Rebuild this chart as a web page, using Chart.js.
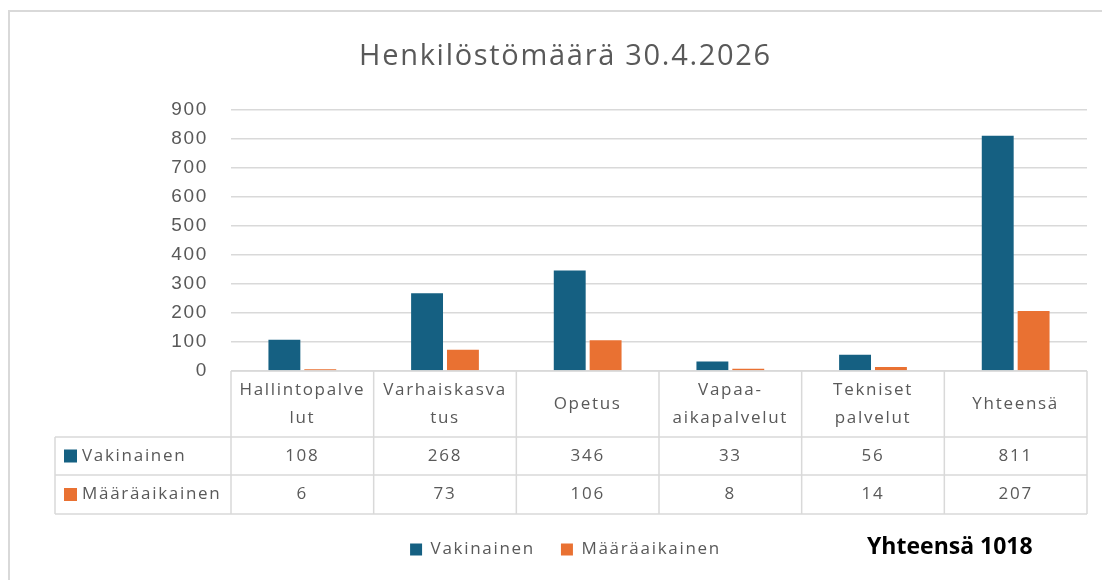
<!DOCTYPE html>
<html>
<head>
<meta charset="utf-8">
<script src="https://cdn.jsdelivr.net/npm/chart.js@4"></script>
<style>
  body { margin: 0; background: #fff; }
  canvas { display: block; }
</style>
</head>
<body>
<canvas id="henkilosto" width="1102" height="580"></canvas>
<script>
// kategoriat (rivitettynä kuten kuvassa)
const categories = [
  ['Hallintopalve', 'lut'],
  ['Varhaiskasva', 'tus'],
  ['Opetus'],
  ['Vapaa-', 'aikapalvelut'],
  ['Tekniset', 'palvelut'],
  ['Yhteensä']
];
const seriesNames = ['Vakinainen', 'Määräaikainen'];
const vakinainen = [108, 268, 346, 33, 56, 811];
const maaraaikainen = [6, 73, 106, 8, 14, 207];
const yTicks = [0, 100, 200, 300, 400, 500, 600, 700, 800, 900];

const blue = '#156082';
const orange = '#E97132';
const textGray = '#595959';
const lineGray = '#D9D9D9';
const uiFont = "'Open Sans', sans-serif";
const spacing = '1.7px';

// Excelin väljempi kirjainväli kaikkeen tekstiin
const spacingPlugin = {
  id: 'spacing',
  beforeUpdate(chart) { chart.ctx.letterSpacing = spacing; },
  beforeDraw(chart) { chart.ctx.letterSpacing = spacing; }
};

// kehys kuvan ympärillä
const framePlugin = {
  id: 'frame',
  beforeDraw(chart) {
    const ctx = chart.ctx;
    ctx.save();
    ctx.fillStyle = '#fff';
    ctx.fillRect(0, 0, chart.width, chart.height);
    ctx.strokeStyle = lineGray;
    ctx.lineWidth = 2;
    ctx.beginPath();
    ctx.moveTo(9, chart.height);
    ctx.lineTo(9, 11);
    ctx.lineTo(chart.width, 11);
    ctx.stroke();
    ctx.restore();
  }
};

// datataulukko x-akselin alle
const tablePlugin = {
  id: 'dataTable',
  afterDraw(chart) {
    const { ctx, scales: { x, y } } = chart;
    const n = categories.length;
    const colW = (x.right - x.left) / n;
    const top = y.bottom;
    const rowCat = top + 66;
    const rowA = rowCat + 38;
    const rowB = rowA + 39;
    const tableLeft = 55;
    const series = [vakinainen, maaraaikainen];
    const colors = [blue, orange];

    ctx.save();
    ctx.strokeStyle = lineGray;
    ctx.lineWidth = 1.5;
    ctx.beginPath();
    ctx.moveTo(x.left, top); ctx.lineTo(x.right, top);
    [rowCat, rowA, rowB].forEach(yy => { ctx.moveTo(tableLeft, yy); ctx.lineTo(x.right, yy); });
    ctx.moveTo(tableLeft, rowCat); ctx.lineTo(tableLeft, rowB);
    for (let i = 0; i <= n; i++) {
      const xx = x.left + i * colW;
      ctx.moveTo(xx, top); ctx.lineTo(xx, rowB);
    }
    ctx.stroke();

    ctx.fillStyle = textGray;
    ctx.font = '17px ' + uiFont;
    ctx.letterSpacing = spacing;
    ctx.textAlign = 'center';
    ctx.textBaseline = 'middle';
    const lineH = 28;
    categories.forEach((lines, i) => {
      const cx = x.getPixelForValue(i);
      const mid = (top + rowCat) / 2;
      lines.forEach((txt, j) => {
        ctx.fillText(txt, cx, mid + (j - (lines.length - 1) / 2) * lineH);
      });
      series.forEach((vals, s) => {
        const rowTop = s === 0 ? rowCat : rowA;
        const rowBot = s === 0 ? rowA : rowB;
        ctx.fillText(String(vals[i]), cx, (rowTop + rowBot) / 2);
      });
    });

    ctx.textAlign = 'left';
    seriesNames.forEach((name, s) => {
      const rowTop = s === 0 ? rowCat : rowA;
      const rowBot = s === 0 ? rowA : rowB;
      const mid = (rowTop + rowBot) / 2;
      ctx.fillStyle = colors[s];
      ctx.fillRect(tableLeft + 9, mid - 6.5, 13, 13);
      ctx.fillStyle = textGray;
      ctx.fillText(name, tableLeft + 27, mid);
    });

    // kokonaismäärä oikeaan alakulmaan
    const total = vakinainen[n - 1] + maaraaikainen[n - 1];
    ctx.fillStyle = '#000';
    ctx.letterSpacing = '0px';
    ctx.font = 'bold 23px ' + uiFont;
    ctx.fillText('Yhteensä ' + total, 867, 547);
    ctx.restore();
  }
};

new Chart(document.getElementById('henkilosto'), {
  type: 'bar',
  data: {
    labels: categories,
    datasets: [
      { label: seriesNames[0], data: vakinainen, backgroundColor: blue },
      { label: seriesNames[1], data: maaraaikainen, backgroundColor: orange }
    ]
  },
  options: {
    responsive: false,
    animation: false,
    categoryPercentage: 0.503,
    barPercentage: 0.889,
    layout: { padding: { left: 44, right: 15, top: 0, bottom: 12 } },
    plugins: {
      title: {
        display: true,
        text: 'Henkilöstömäärä 30.4.2026',
        color: textGray,
        font: { family: uiFont, size: 29, weight: 'normal' },
        padding: { top: 39, bottom: 36 }
      },
      legend: {
        position: 'bottom',
        labels: {
          color: textGray,
          boxWidth: 12,
          boxHeight: 12,
          padding: 26,
          font: { family: uiFont, size: 17 }
        }
      },
      tooltip: { enabled: false }
    },
    scales: {
      x: {
        ticks: { display: false },
        grid: { display: false },
        border: { display: false },
        afterFit(scale) { scale.height = 144; }
      },
      y: {
        min: 0,
        max: 900,
        afterBuildTicks(scale) { scale.ticks = yTicks.map(v => ({ value: v })); },
        ticks: {
          color: textGray,
          padding: 23,
          font: { family: "'Liberation Sans', Arial, sans-serif", size: 19 }
        },
        grid: { color: lineGray, lineWidth: 1.5, drawTicks: false },
        border: { display: false },
        afterFit(scale) { scale.width = 187; }
      }
    }
  },
  plugins: [spacingPlugin, framePlugin, tablePlugin]
});
</script>
</body>
</html>
